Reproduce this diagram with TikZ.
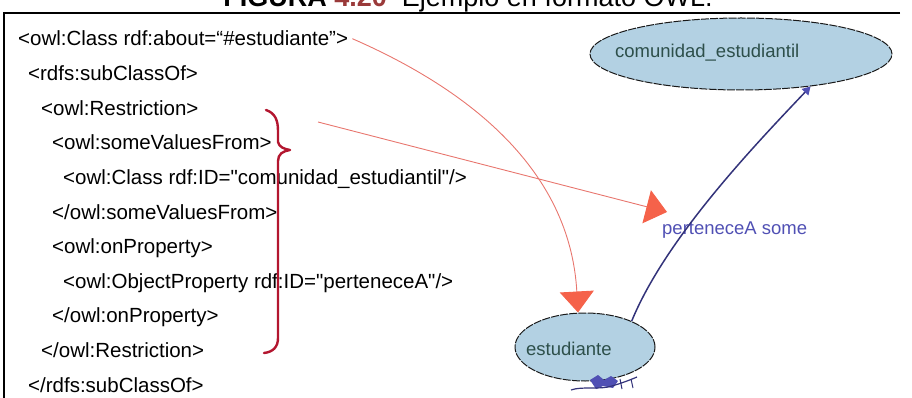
\documentclass[tikz,border=0pt]{standalone}
\usepackage{fontspec}
\setmainfont{Liberation Sans}
% plain family for the listing, so that straight quotes stay straight
\newfontfamily\listingfont{Liberation Sans}
\usetikzlibrary{arrows.meta,shapes.geometric}

\definecolor{linkred}{HTML}{E8766E}
\definecolor{tipred}{HTML}{F5624A}
\definecolor{bracered}{HTML}{B3162F}
\definecolor{classfill}{HTML}{B3D1E3}
\definecolor{classink}{HTML}{2D4F4A}
\definecolor{propblue}{HTML}{5050B4}
\definecolor{edgenavy}{HTML}{33337A}
\definecolor{titlered}{HTML}{9A3A3A}

\tikzset{
  codeline/.style={anchor=base west, inner sep=0pt, font=\listingfont\fontsize{20.5}{24}\selectfont},
  classnode/.style={ellipse, draw=black!90, fill=classfill, line width=1pt,
    dash pattern=on 8pt off 1.2pt, inner sep=0pt},
  classtext/.style={anchor=west, inner sep=0pt, text=classink, font=\fontsize{18.5}{22}\selectfont},
  proptext/.style={anchor=west, inner sep=0pt, text=propblue, font=\fontsize{18.5}{22}\selectfont},
  redlink/.style={draw=linkred, line width=0.9pt,
    -{Triangle[length=21pt,width=34pt,color=tipred,fill=tipred]}},
  bluelink/.style={draw=edgenavy, line width=1.5pt,
    -{Triangle[length=8pt,width=9pt,color=propblue,fill=propblue]}},
  bracepen/.style={draw=bracered, line width=2.4pt, line cap=round, line join=round},
  framepen/.style={draw=black, line width=2.2pt}
}

\begin{document}
\begin{tikzpicture}[x=1pt,y=-1pt]
\useasboundingbox (0,0) rectangle (912,398);
\clip (0,0) rectangle (912,398);

% caption, partly above the frame
\node[anchor=base, inner sep=0pt] (title) at (468,7)
  {\fontsize{27}{30}\selectfont\bfseries FIGURA \textcolor{titlered}{4.20}\mdseries\ \ Ejemplo en formato OWL.};

% frame: top rule and left rule
\draw[framepen] (900,13) -- (4,13) -- (4,398);

% OWL listing
\node[codeline] (l1)  at (18,46)    {<owl:Class rdf:about=“\#estudiante”>};
\node[codeline] (l2)  at (28,80.6)  {<rdfs:subClassOf>};
\node[codeline] (l3)  at (41,115.2) {<owl:Restriction>};
\node[codeline] (l4)  at (52,149.8) {<owl:someValuesFrom>};
\node[codeline] (l5)  at (63,184.4) {<owl:Class rdf:ID="comunidad\_estudiantil"/>};
\node[codeline] (l6)  at (52,219)   {</owl:someValuesFrom>};
\node[codeline] (l7)  at (52,253.6) {<owl:onProperty>};
\node[codeline] (l8)  at (63,288.2) {<owl:ObjectProperty rdf:ID="perteneceA"/>};
\node[codeline] (l9)  at (52,322.8) {</owl:onProperty>};
\node[codeline] (l10) at (41,357.4) {</owl:Restriction>};
\node[codeline] (l11) at (28,392)   {</rdfs:subClassOf>};

% brace grouping the restriction body
\draw[bracepen] (266,110) .. controls (275,113) and (278,120) .. (278,131)
  -- (278,142) .. controls (279,147) and (284,149) .. (290,150)
  .. controls (283,151) and (278,154) .. (278,161)
  -- (278,338) .. controls (278,347) and (273,352) .. (264,353);
\coordinate (bracefrom) at (318,122);

% graph view
\node[classnode, minimum width=302pt, minimum height=72pt] (com) at (741,54) {};
\node[classtext] (comtext) at (615,53) {comunidad\_estudiantil};
\node[classnode, minimum width=140pt, minimum height=68pt] (stud) at (585,347) {};
\node[classtext] (studtext) at (526,349) {estudiante};
\node[proptext] (prop) at (662,230) {perteneceA some};
\coordinate (proptip) at (667,212);

% links from the listing to the graph
\draw[redlink] ([xshift=4pt]l1.east) .. controls (470,90) and (570,170) .. ([xshift=-7pt]stud.north);
\draw[redlink] (bracefrom) -- (proptip);

% restriction edge
\draw[bluelink] (stud.29) .. controls (665,240) and (750,150) .. (com.-25);

% self loop squeezed under the class
\fill[propblue] (590,380) -- (598,375) -- (604,380) -- (611,376) -- (618,381)
  -- (613,388) -- (603,386) -- (596,389) -- cycle;
\draw[edgenavy, line width=1.2pt] (571,390) .. controls (582,386) and (600,390) .. (612,386)
  .. controls (622,383) and (630,380) .. (637,377);
\draw[edgenavy, line width=1pt] (620,379) -- (622,389) (631,379) -- (633,388);
\end{tikzpicture}
\end{document}
